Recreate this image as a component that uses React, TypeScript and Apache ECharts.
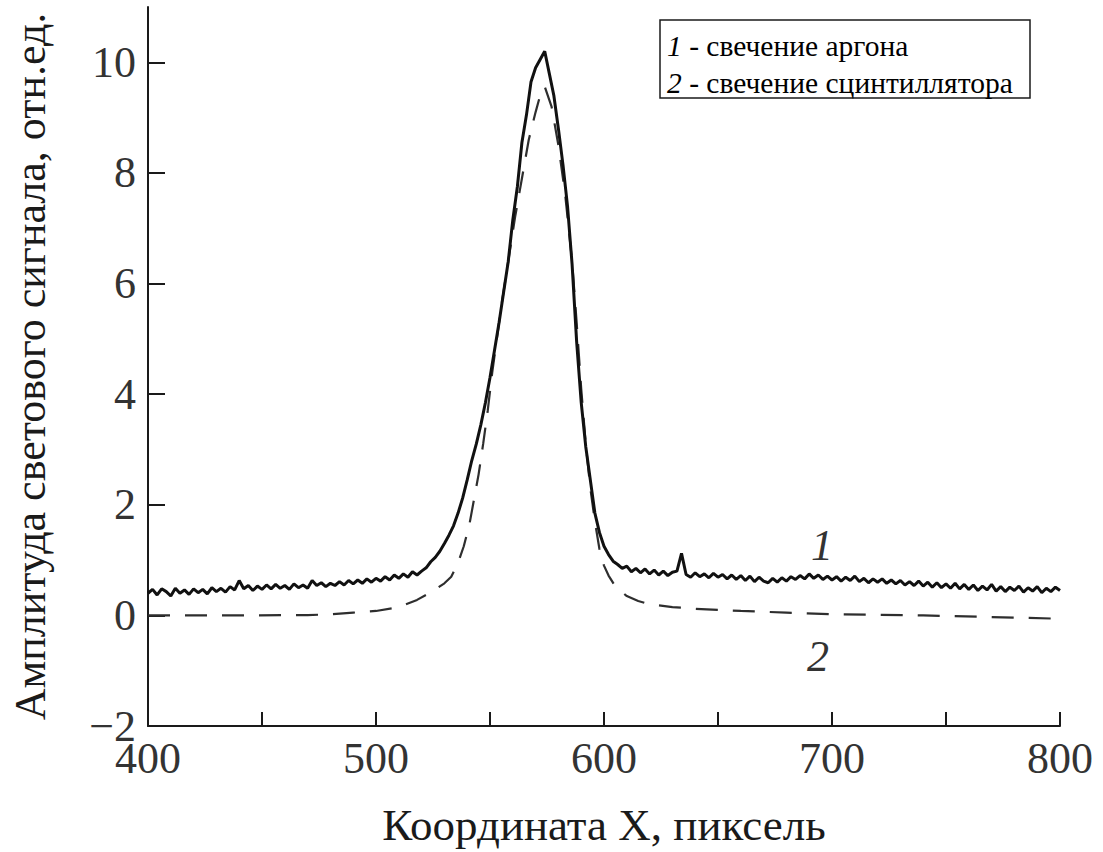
import { useEffect, useRef } from "react";
import * as echarts from "echarts";

// Argon glow (curve 1): sampled every 2 px-units from X = 400 to 800
const ARGON_X_START = 400;
const ARGON_X_STEP = 2;
const argonY = [
  0.40, 0.47, 0.37, 0.48, 0.43, 0.35, 0.49, 0.40, 0.46, 0.38,
  0.48, 0.41, 0.47, 0.39, 0.50, 0.43, 0.49, 0.42, 0.52, 0.46,
  0.63, 0.48, 0.54, 0.45, 0.53, 0.47, 0.55, 0.48, 0.56, 0.49,
  0.54, 0.47, 0.57, 0.50, 0.55, 0.49, 0.63, 0.54, 0.59, 0.52,
  0.58, 0.54, 0.61, 0.55, 0.63, 0.57, 0.64, 0.58, 0.66, 0.60,
  0.67, 0.62, 0.70, 0.64, 0.73, 0.67, 0.75, 0.69, 0.79, 0.73,
  0.80, 0.86, 0.97, 1.05, 1.16, 1.30, 1.45, 1.62, 1.85, 2.12,
  2.45, 2.80, 3.10, 3.45, 3.85, 4.30, 4.80, 5.30, 5.85, 6.40,
  7.15, 7.75, 8.55, 9.05, 9.65, 9.90, 10.05, 10.20, 9.80, 9.40,
  8.80, 8.15, 7.40, 6.35, 4.95, 3.85, 3.05, 2.45, 1.85, 1.50,
  1.25, 1.10, 0.98, 0.92, 0.85, 0.89, 0.79, 0.85, 0.77, 0.84,
  0.75, 0.82, 0.73, 0.80, 0.72, 0.78, 0.80, 1.12, 0.74, 0.69,
  0.77, 0.70, 0.75, 0.68, 0.76, 0.69, 0.74, 0.66, 0.73, 0.65,
  0.72, 0.63, 0.71, 0.61, 0.69, 0.62, 0.59, 0.67, 0.60, 0.68,
  0.62, 0.70, 0.65, 0.72, 0.66, 0.75, 0.67, 0.73, 0.65, 0.71,
  0.64, 0.70, 0.62, 0.69, 0.63, 0.71, 0.61, 0.67, 0.59, 0.66,
  0.60, 0.66, 0.58, 0.64, 0.57, 0.63, 0.55, 0.61, 0.54, 0.62,
  0.53, 0.60, 0.51, 0.59, 0.50, 0.57, 0.49, 0.58, 0.48, 0.56,
  0.47, 0.55, 0.45, 0.53, 0.46, 0.56, 0.44, 0.52, 0.43, 0.51,
  0.45, 0.53, 0.42, 0.50, 0.44, 0.52, 0.41, 0.49, 0.43, 0.51,
  0.45,
];

// Scintillator glow (curve 2)
const scintX = [
  400, 440, 470, 480, 490, 500, 510, 518, 525, 530,
  533, 536, 538.5, 541, 543, 545, 547, 549, 551, 553,
  555, 558, 561, 564, 567, 570, 572, 574, 577, 580,
  583, 586, 588, 590, 592, 594, 596, 598, 600, 602,
  605, 610, 615, 620, 630, 640, 660, 680, 700, 740,
  770, 800,
];
const scintY = [
  0, 0, 0.005, 0.02, 0.05, 0.08, 0.15, 0.28, 0.44, 0.58,
  0.7, 0.95, 1.25, 1.65, 2.1, 2.55, 3.1, 3.7, 4.4, 5.0,
  5.6, 6.4, 7.2, 7.9, 8.6, 9.1, 9.4, 9.56, 9.2, 8.5,
  7.6, 6.4, 5.3, 4.1, 3.1, 2.3, 1.7, 1.2, 0.9, 0.72,
  0.52, 0.35, 0.26, 0.2, 0.15, 0.12, 0.08, 0.05, 0.02, 0,
  -0.03, -0.06,
];

const yTicks = [-2, 0, 2, 4, 6, 8, 10];
const legendLines = [
  { num: "1", text: " - свечение аргона" },
  { num: "2", text: " - свечение сцинтиллятора" },
];

const SERIF = "'Liberation Serif', 'Times New Roman', 'DejaVu Serif', serif";
const INK = "#1a1a1a";

export default function App() {
  const ref = useRef<HTMLDivElement>(null);

  useEffect(() => {
    const chart = echarts.init(ref.current!, null, { renderer: "svg" });

    const argonData = argonY.map((y, i) => [ARGON_X_START + i * ARGON_X_STEP, y]);
    const scintData = scintX.map((x, i) => [x, scintY[i]]);

    chart.setOption({
      animation: false,
      backgroundColor: "#fff",
      grid: { left: 147, top: 7, right: 43, bottom: 125 },
      xAxis: {
        type: "value",
        min: 400,
        max: 800,
        interval: 50,
        name: "Координата X, пиксель",
        nameLocation: "middle",
        nameGap: 76,
        nameTextStyle: { fontFamily: SERIF, fontSize: 45, color: INK },
        axisLine: { onZero: false, lineStyle: { color: INK, width: 2 } },
        axisTick: { inside: true, length: 14, lineStyle: { color: INK, width: 2 } },
        axisLabel: {
          fontFamily: SERIF,
          fontSize: 44,
          color: "#333",
          margin: 10,
          formatter: (v: number) => (v % 100 === 0 ? String(v) : ""),
        },
        splitLine: { show: false },
      },
      yAxis: {
        type: "value",
        min: -2,
        max: 11,
        name: "Амплитуда светового сигнала, отн.ед.",
        nameLocation: "middle",
        nameGap: 96,
        nameTextStyle: { fontFamily: SERIF, fontSize: 44, color: INK },
        axisLine: { show: true, onZero: false, lineStyle: { color: INK, width: 2 } },
        axisTick: {
          inside: true,
          length: 17,
          customValues: yTicks,
          lineStyle: { color: INK, width: 2 },
        },
        axisLabel: {
          customValues: yTicks,
          fontFamily: SERIF,
          fontSize: 44,
          color: "#333",
          margin: 12,
          formatter: (v: number) => (v < 0 ? "\u2212" + Math.abs(v) : String(v)),
        },
        splitLine: { show: false },
      },
      series: [
        {
          name: "2",
          type: "line",
          data: scintData,
          showSymbol: false,
          lineStyle: { color: "#2e2e2e", width: 2.2, type: [22, 15] },
          z: 2,
        },
        {
          name: "1",
          type: "line",
          data: argonData,
          showSymbol: false,
          lineStyle: { color: "#111", width: 3 },
          z: 3,
        },
      ],
      graphic: [
        {
          type: "rect",
          shape: { x: 660, y: 20, width: 370, height: 78 },
          style: { fill: "#fff", stroke: INK, lineWidth: 1.5 },
          z: 10,
        },
        ...legendLines.map((l, i) => ({
          type: "text",
          x: 667,
          y: 46 + i * 37,
          z: 11,
          style: {
            text: `{n|${l.num}}${l.text}`,
            verticalAlign: "middle",
            fontFamily: SERIF,
            fontSize: 29.5,
            fill: "#000",
            rich: {
              n: { fontFamily: SERIF, fontSize: 29.5, fontStyle: "italic", fill: "#000" },
            },
          },
        })),
        {
          type: "text",
          x: 822,
          y: 545,
          style: {
            text: "1",
            align: "center",
            verticalAlign: "middle",
            fontFamily: SERIF,
            fontStyle: "italic",
            fontSize: 44,
            fill: "#333",
          },
        },
        {
          type: "text",
          x: 818,
          y: 656,
          style: {
            text: "2",
            align: "center",
            verticalAlign: "middle",
            fontFamily: SERIF,
            fontStyle: "italic",
            fontSize: 44,
            fill: "#333",
          },
        },
      ],
    });

    return () => chart.dispose();
  }, []);

  return (
    <div
      ref={ref}
      style={{ position: "fixed", left: 0, top: 0, width: 1103, height: 852, background: "#fff" }}
    />
  );
}
